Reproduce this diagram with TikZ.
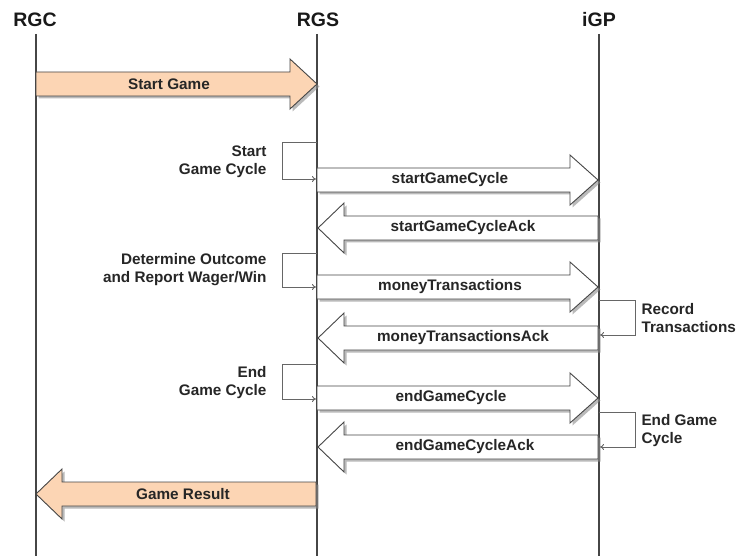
\documentclass[tikz,border=0pt]{standalone}
\usepackage{fontspec}
\setmainfont{Liberation Sans}
\usetikzlibrary{shadows,arrows.meta}
\definecolor{peach}{RGB}{252,213,180}
\definecolor{edge}{RGB}{70,70,70}
\tikzset{
  lifeline/.style={draw=edge, line width=1.1pt},
  title/.style={font=\bfseries\fontsize{19.5}{21}\selectfont, text=black!90},
  msgtext/.style={font=\bfseries\fontsize{15.3}{17}\selectfont, text=black!85},
  sidetext/.style={font=\bfseries\fontsize{15.3}{18}\selectfont, text=black!85, align=right, anchor=east},
  sidetextR/.style={font=\bfseries\fontsize{15.3}{18}\selectfont, text=black!85, align=left, anchor=west},
  fatarrow/.style={draw=edge, line width=0.9pt, line join=miter, drop shadow={shadow xshift=2.5pt, shadow yshift=-2.5pt, fill=black!45, opacity=0.6}},
  loopline/.style={draw=black!60, line width=0.9pt, -{To[length=4pt,width=6pt]}},
}
% right arrow: #1 x start, #2 x end, #3 y centre, #4 fill, #5 head length
\newcommand\fatR[5]{\path[fatarrow, fill=#4] (#1,#3-12) -- (#2-#5,#3-12) -- (#2-#5,#3-25) -- (#2,#3) -- (#2-#5,#3+25) -- (#2-#5,#3+12) -- (#1,#3+12) -- cycle;}
\newcommand\fatL[5]{\path[fatarrow, fill=#4] (#1,#3-12) -- (#2+#5,#3-12) -- (#2+#5,#3-25) -- (#2,#3) -- (#2+#5,#3+25) -- (#2+#5,#3+12) -- (#1,#3+12) -- cycle;}
\begin{document}
\begin{tikzpicture}[x=1pt,y=-1pt]
\useasboundingbox[fill=white] (0,0) rectangle (750,556);
% titles
\node[title] (tRGC) at (35,20) {RGC};
\node[title] (tRGS) at (318,20) {RGS};
\node[title] (tIGP) at (599,20) {iGP};
% lifelines
\coordinate (rgcT) at (36,34); \coordinate (rgcB) at (36,556);
\coordinate (rgsT) at (317,34); \coordinate (rgsB) at (317,556);
\coordinate (igpT) at (599,34); \coordinate (igpB) at (599,556);
\draw[lifeline] (rgcT) -- (rgcB);
\draw[lifeline] (rgsT) -- (rgsB);
\draw[lifeline] (igpT) -- (igpB);

% Start Game
\fatR{36}{317}{84}{peach}{27}
\node[msgtext] (m1) at (169,84) {Start Game};

% Start Game Cycle loop
\coordinate (l1a) at (317,142); \coordinate (l1b) at (282,142);
\coordinate (l1c) at (282,179); \coordinate (l1d) at (316,179);
\draw[loopline] (l1a) -- (l1b) -- (l1c) -- (l1d);
\node[sidetext] (s1) at (270,162) {Start\\Game Cycle};

\fatR{317}{598}{180}{white}{28}
\node[msgtext] (m2) at (450,180) {startGameCycle};
\fatL{598}{318}{228}{white}{26}
\node[msgtext] (m3) at (463,228) {startGameCycleAck};

% Determine outcome loop
\coordinate (l2a) at (317,253); \coordinate (l2b) at (282,253);
\coordinate (l2c) at (282,287); \coordinate (l2d) at (316,287);
\draw[loopline] (l2a) -- (l2b) -- (l2c) -- (l2d);
\node[sidetext] (s2) at (270,270) {Determine Outcome\\and Report Wager/Win};

\fatR{317}{598}{287}{white}{28}
\node[msgtext] (m4) at (450,287) {moneyTransactions};
\fatL{598}{318}{338}{white}{26}
\node[msgtext] (m5) at (463,338) {moneyTransactionsAck};

% Record transactions loop
\coordinate (r1a) at (599,300); \coordinate (r1b) at (635,300);
\coordinate (r1c) at (635,335); \coordinate (r1d) at (600,335);
\draw[loopline] (r1a) -- (r1b) -- (r1c) -- (r1d);
\node[sidetextR] (s3) at (638,318) {Record\\Transactions};

% End Game Cycle loop
\coordinate (l3a) at (317,364); \coordinate (l3b) at (282,364);
\coordinate (l3c) at (282,399); \coordinate (l3d) at (316,399);
\draw[loopline] (l3a) -- (l3b) -- (l3c) -- (l3d);
\node[sidetext] (s4) at (270,383) {End\\Game Cycle};

\fatR{317}{598}{398}{white}{28}
\node[msgtext] (m6) at (451,398) {endGameCycle};
\fatL{598}{318}{447}{white}{26}
\node[msgtext] (m7) at (465,447) {endGameCycleAck};

% End game cycle loop at iGP
\coordinate (r2a) at (599,412); \coordinate (r2b) at (635,412);
\coordinate (r2c) at (635,447); \coordinate (r2d) at (600,447);
\draw[loopline] (r2a) -- (r2b) -- (r2c) -- (r2d);
\node[sidetextR] (s5) at (638,431) {End Game\\Cycle};

% Game Result
\fatL{316}{36}{494}{peach}{26}
\node[msgtext] (m8) at (183,494) {Game Result};
\end{tikzpicture}
\end{document}
